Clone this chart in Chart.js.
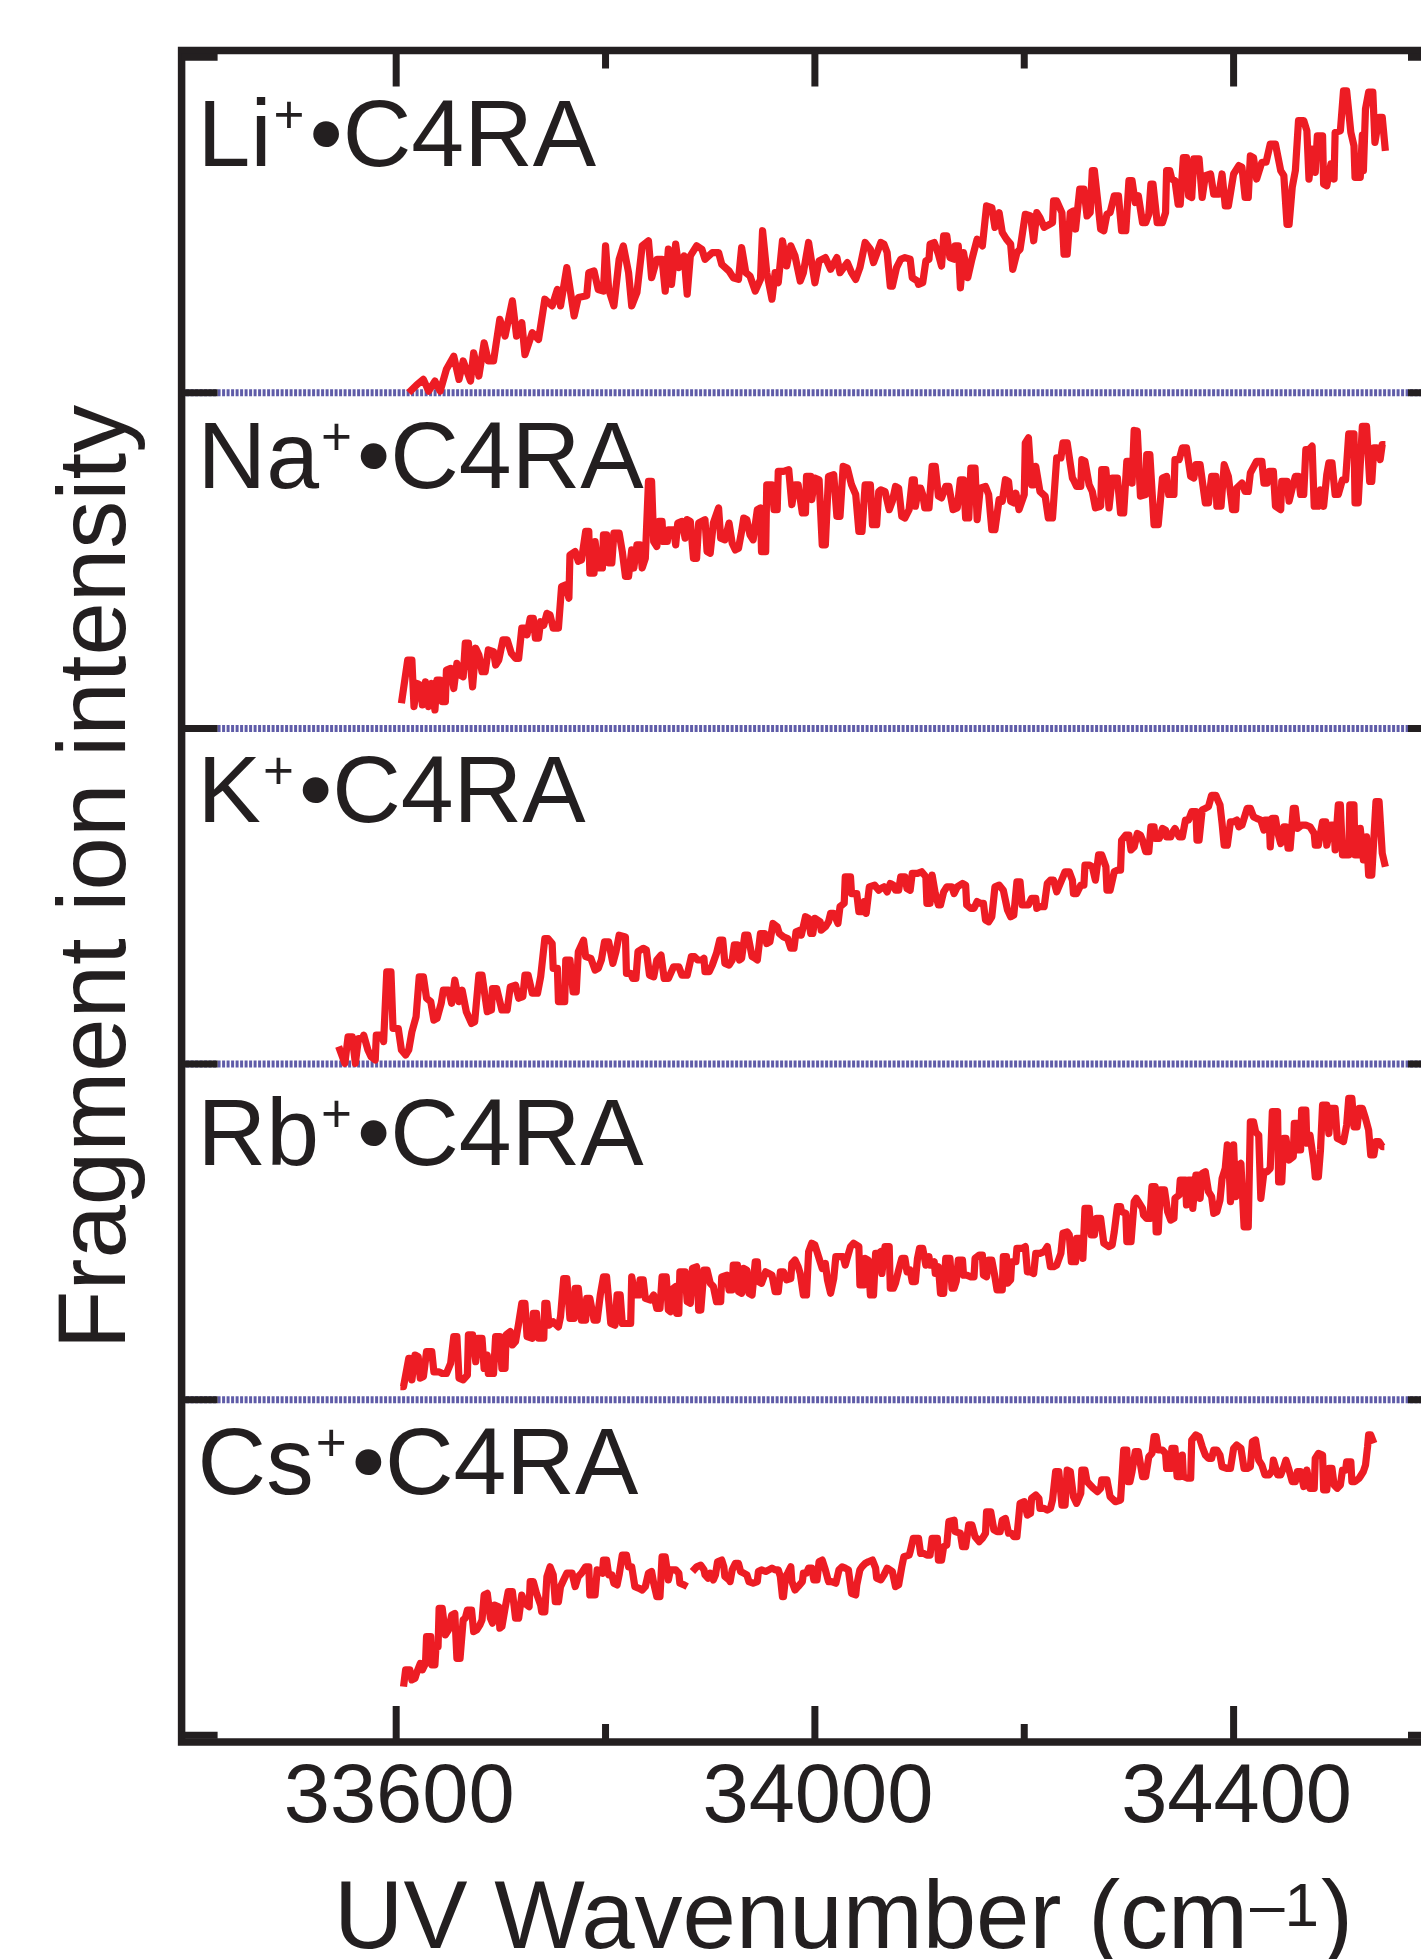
<!DOCTYPE html>
<html lang="en">
<head>
  <meta charset="UTF-8" />
  <title>Fragment ion intensity vs UV wavenumber</title>
  <script src="https://cdn.jsdelivr.net/npm/chart.js"></script>
  <style>
    html, body { margin: 0; padding: 0; background: #fff; overflow: hidden; }
    #chart { display: block; }
  </style>
</head>
<body>
  <canvas id="chart" width="1460" height="1959"></canvas>

  <script>
    // [wavenumber cm-1, intensity within its panel (0..1)]
    const li = [
      [33612,0],[33620,0.025],[33626,0.04],[33631,0.005],[33637,0.035],[33642,0.005],[33648,0.07],[33655,0.109],
      [33660,0.04],[33664,0.095],[33671,0.035],[33674,0.119],[33679,0.05],[33684,0.149],[33688,0.095],[33693,0.095],
      [33699,0.219],[33704,0.169],[33711,0.274],[33715,0.169],[33720,0.209],[33723,0.114],[33730,0.179],[33736,0.159],
      [33742,0.279],[33749,0.259],[33754,0.308],[33757,0.259],[33763,0.373],[33770,0.229],[33774,0.284],[33782,0.289],
      [33784,0.358],[33789,0.363],[33793,0.308],[33798,0.303],[33800,0.438],[33803,0.308],[33808,0.259],[33813,0.398],
      [33817,0.438],[33822,0.358],[33825,0.259],[33830,0.299],[33835,0.438],[33841,0.453],[33844,0.343],[33849,0.398],
      [33854,0.398],[33857,0.303],[33860,0.428],[33863,0.323],[33867,0.443],[33870,0.373],[33875,0.408],[33878,0.294],
      [33881,0.408],[33887,0.438],[33892,0.428],[33895,0.398],[33902,0.418],[33908,0.418],[33911,0.383],[33918,0.363],
      [33922,0.343],[33927,0.338],[33930,0.433],[33934,0.358],[33938,0.348],[33943,0.303],[33948,0.338],[33950,0.483],
      [33954,0.358],[33959,0.279],[33962,0.358],[33965,0.328],[33969,0.453],[33973,0.378],[33977,0.438],[33981,0.408],
      [33986,0.333],[33989,0.358],[33994,0.448],[34000,0.328],[34004,0.393],[34010,0.403],[34015,0.368],[34021,0.403],
      [34024,0.358],[34031,0.388],[34035,0.358],[34039,0.338],[34043,0.373],[34048,0.448],[34053,0.428],[34056,0.388],
      [34063,0.448],[34066,0.443],[34069,0.418],[34072,0.318],[34074,0.318],[34078,0.373],[34082,0.398],[34086,0.403],
      [34091,0.398],[34093,0.343],[34098,0.333],[34099,0.323],[34103,0.328],[34106,0.393],[34109,0.398],[34110,0.443],
      [34114,0.448],[34118,0.413],[34121,0.378],[34123,0.468],[34126,0.468],[34129,0.403],[34133,0.398],[34134,0.438],
      [34137,0.438],[34139,0.313],[34142,0.418],[34146,0.343],[34150,0.398],[34155,0.458],[34160,0.438],[34164,0.557],
      [34169,0.552],[34172,0.493],[34176,0.537],[34179,0.478],[34183,0.458],[34187,0.443],[34189,0.368],[34193,0.418],
      [34196,0.428],[34201,0.532],[34206,0.527],[34209,0.453],[34212,0.537],[34215,0.522],[34219,0.493],[34222,0.498],
      [34227,0.507],[34228,0.572],[34231,0.572],[34236,0.537],[34238,0.413],[34241,0.413],[34244,0.537],[34247,0.542],
      [34249,0.488],[34253,0.607],[34257,0.607],[34260,0.527],[34263,0.537],[34265,0.662],[34267,0.662],[34270,0.577],
      [34273,0.488],[34276,0.483],[34279,0.532],[34282,0.537],[34286,0.587],[34290,0.587],[34293,0.483],[34297,0.483],
      [34300,0.632],[34303,0.632],[34306,0.567],[34309,0.587],[34313,0.507],[34316,0.507],[34319,0.532],[34321,0.622],
      [34323,0.622],[34327,0.507],[34332,0.507],[34335,0.537],[34336,0.662],[34339,0.662],[34341,0.637],[34344,0.632],
      [34347,0.562],[34349,0.562],[34352,0.701],[34355,0.701],[34357,0.587],[34360,0.582],[34362,0.697],[34367,0.697],
      [34370,0.582],[34373,0.647],[34378,0.652],[34381,0.592],[34386,0.592],[34389,0.652],[34392,0.557],[34395,0.557],
      [34400,0.652],[34405,0.677],[34408,0.672],[34411,0.582],[34414,0.582],[34416,0.706],[34419,0.701],[34422,0.637],
      [34427,0.687],[34431,0.687],[34435,0.741],[34440,0.741],[34445,0.662],[34448,0.647],[34451,0.502],[34453,0.502],
      [34456,0.612],[34459,0.662],[34462,0.811],[34467,0.811],[34470,0.781],[34472,0.637],[34475,0.726],[34478,0.657],
      [34480,0.766],[34485,0.766],[34486,0.622],[34489,0.617],[34493,0.682],[34496,0.637],[34497,0.776],[34502,0.781],
      [34505,0.9],[34508,0.9],[34512,0.776],[34515,0.736],[34516,0.642],[34521,0.642],[34523,0.768],[34524,0.662],
      [34526,0.846],[34529,0.896],[34533,0.896],[34535,0.746],[34539,0.821],[34542,0.821],[34545,0.721]
    ];

    const na = [
      [33605,0.075],[33611,0.204],[33615,0.204],[33617,0.065],[33620,0.134],[33623,0.129],[33625,0.07],[33628,0.139],
      [33631,0.065],[33634,0.134],[33637,0.055],[33639,0.144],[33642,0.144],[33644,0.08],[33647,0.08],[33648,0.174],
      [33652,0.179],[33655,0.119],[33658,0.194],[33661,0.159],[33664,0.154],[33666,0.254],[33669,0.254],[33673,0.124],
      [33676,0.239],[33679,0.219],[33682,0.169],[33685,0.169],[33688,0.234],[33693,0.229],[33695,0.189],[33698,0.204],
      [33702,0.264],[33706,0.264],[33710,0.224],[33714,0.209],[33717,0.209],[33720,0.299],[33723,0.299],[33725,0.279],
      [33728,0.328],[33731,0.328],[33733,0.269],[33736,0.269],[33738,0.318],[33741,0.308],[33744,0.343],[33747,0.338],
      [33750,0.299],[33755,0.299],[33758,0.423],[33762,0.428],[33765,0.388],[33766,0.517],[33771,0.527],[33774,0.498],
      [33777,0.502],[33781,0.587],[33784,0.587],[33785,0.463],[33789,0.463],[33790,0.557],[33793,0.478],[33797,0.478],
      [33798,0.577],[33801,0.577],[33803,0.493],[33806,0.493],[33808,0.582],[33813,0.582],[33816,0.527],[33819,0.453],
      [33822,0.453],[33825,0.532],[33827,0.478],[33830,0.547],[33833,0.547],[33835,0.478],[33838,0.507],[33841,0.736],
      [33844,0.736],[33846,0.557],[33849,0.542],[33851,0.617],[33854,0.617],[33855,0.557],[33859,0.557],[33860,0.592],
      [33865,0.592],[33867,0.547],[33869,0.612],[33873,0.617],[33876,0.567],[33878,0.622],[33881,0.617],[33884,0.507],
      [33887,0.507],[33889,0.612],[33895,0.622],[33897,0.527],[33900,0.522],[33903,0.612],[33908,0.657],[33910,0.567],
      [33914,0.562],[33918,0.612],[33921,0.552],[33924,0.532],[33927,0.537],[33930,0.587],[33932,0.627],[33935,0.622],
      [33938,0.577],[33941,0.562],[33945,0.652],[33948,0.657],[33949,0.527],[33953,0.527],[33954,0.726],[33959,0.726],
      [33961,0.652],[33964,0.652],[33965,0.766],[33970,0.766],[33975,0.771],[33978,0.667],[33981,0.726],[33984,0.726],
      [33988,0.642],[33991,0.642],[33992,0.751],[33996,0.751],[33997,0.682],[34000,0.746],[34004,0.741],[34007,0.547],
      [34010,0.547],[34013,0.751],[34018,0.756],[34021,0.632],[34024,0.632],[34027,0.781],[34031,0.776],[34035,0.726],
      [34039,0.697],[34042,0.587],[34045,0.587],[34048,0.726],[34053,0.726],[34055,0.607],[34059,0.607],[34061,0.706],
      [34063,0.711],[34067,0.706],[34071,0.652],[34074,0.677],[34077,0.721],[34080,0.716],[34083,0.632],[34086,0.627],
      [34090,0.652],[34093,0.741],[34095,0.741],[34096,0.662],[34099,0.716],[34101,0.716],[34103,0.697],[34105,0.657],
      [34109,0.657],[34112,0.781],[34115,0.781],[34118,0.692],[34121,0.687],[34125,0.721],[34128,0.721],[34132,0.652],
      [34136,0.657],[34139,0.741],[34142,0.741],[34144,0.627],[34147,0.627],[34149,0.776],[34153,0.776],[34155,0.622],
      [34158,0.716],[34163,0.721],[34166,0.697],[34169,0.592],[34172,0.592],[34176,0.682],[34179,0.677],[34182,0.741],
      [34185,0.736],[34187,0.677],[34190,0.672],[34192,0.701],[34195,0.652],[34200,0.697],[34201,0.851],[34204,0.866],
      [34207,0.726],[34209,0.726],[34211,0.781],[34215,0.706],[34220,0.692],[34223,0.627],[34227,0.627],[34231,0.806],
      [34235,0.806],[34237,0.851],[34241,0.851],[34246,0.746],[34247,0.741],[34250,0.721],[34254,0.721],[34255,0.801],
      [34258,0.796],[34262,0.726],[34265,0.706],[34268,0.657],[34273,0.662],[34274,0.771],[34278,0.771],[34281,0.657],
      [34284,0.746],[34289,0.746],[34292,0.642],[34295,0.642],[34298,0.796],[34301,0.796],[34303,0.731],[34305,0.888],
      [34308,0.886],[34311,0.692],[34316,0.697],[34317,0.816],[34320,0.816],[34324,0.607],[34328,0.607],[34332,0.746],
      [34336,0.751],[34338,0.697],[34343,0.697],[34344,0.801],[34348,0.801],[34351,0.836],[34355,0.836],[34359,0.751],
      [34362,0.746],[34364,0.786],[34368,0.786],[34373,0.672],[34376,0.672],[34379,0.751],[34383,0.751],[34384,0.662],
      [34388,0.662],[34391,0.786],[34395,0.751],[34399,0.652],[34402,0.652],[34403,0.716],[34408,0.731],[34411,0.706],
      [34414,0.706],[34416,0.761],[34422,0.796],[34427,0.796],[34429,0.731],[34432,0.731],[34434,0.766],[34438,0.766],
      [34440,0.662],[34445,0.652],[34446,0.736],[34451,0.736],[34453,0.677],[34456,0.716],[34459,0.751],[34462,0.751],
      [34464,0.697],[34467,0.697],[34469,0.831],[34472,0.831],[34475,0.841],[34477,0.662],[34481,0.662],[34483,0.711],
      [34486,0.662],[34489,0.756],[34491,0.791],[34494,0.791],[34497,0.697],[34500,0.697],[34504,0.741],[34507,0.741],
      [34510,0.878],[34515,0.878],[34516,0.672],[34519,0.672],[34521,0.786],[34523,0.9],[34527,0.9],[34530,0.736],
      [34532,0.736],[34534,0.836],[34537,0.836],[34540,0.801],[34542,0.846],[34545,0.846]
    ];

    const k = [
      [33545,0.052],[33551,0.002],[33554,0.081],[33558,0.081],[33561,0.002],[33564,0.076],[33568,0.076],[33569,0.086],
      [33573,0.042],[33576,0.022],[33580,0.012],[33581,0.086],[33586,0.086],[33588,0.067],[33591,0.275],[33595,0.275],
      [33597,0.106],[33602,0.106],[33605,0.042],[33609,0.027],[33612,0.042],[33615,0.096],[33619,0.141],[33622,0.26],
      [33626,0.26],[33629,0.196],[33633,0.186],[33636,0.131],[33639,0.136],[33643,0.181],[33645,0.22],[33650,0.22],
      [33653,0.181],[33656,0.25],[33660,0.186],[33663,0.22],[33667,0.156],[33672,0.121],[33675,0.126],[33679,0.265],
      [33682,0.265],[33687,0.156],[33691,0.161],[33692,0.225],[33696,0.225],[33701,0.161],[33706,0.161],[33709,0.23],
      [33714,0.235],[33717,0.196],[33721,0.201],[33723,0.265],[33726,0.265],[33730,0.211],[33735,0.211],[33738,0.26],
      [33742,0.374],[33745,0.374],[33749,0.359],[33750,0.285],[33754,0.285],[33755,0.186],[33761,0.186],[33762,0.31],
      [33766,0.31],[33769,0.215],[33772,0.215],[33774,0.335],[33779,0.369],[33781,0.32],[33786,0.315],[33790,0.28],
      [33793,0.285],[33796,0.31],[33799,0.364],[33803,0.364],[33807,0.3],[33810,0.335],[33813,0.384],[33819,0.379],
      [33820,0.27],[33824,0.27],[33826,0.255],[33829,0.255],[33831,0.335],[33836,0.345],[33839,0.34],[33842,0.265],
      [33846,0.26],[33849,0.31],[33853,0.325],[33856,0.255],[33860,0.255],[33865,0.29],[33870,0.29],[33873,0.265],
      [33878,0.265],[33882,0.32],[33885,0.32],[33888,0.31],[33892,0.31],[33894,0.315],[33895,0.275],[33899,0.275],
      [33902,0.295],[33906,0.33],[33909,0.369],[33912,0.369],[33914,0.3],[33918,0.295],[33921,0.31],[33923,0.355],
      [33926,0.355],[33928,0.31],[33930,0.315],[33933,0.384],[33936,0.384],[33940,0.32],[33943,0.315],[33945,0.31],
      [33948,0.389],[33952,0.389],[33954,0.359],[33957,0.364],[33960,0.419],[33964,0.409],[33966,0.389],[33970,0.379],
      [33974,0.374],[33977,0.345],[33980,0.345],[33982,0.394],[33986,0.399],[33987,0.384],[33991,0.439],[33994,0.434],
      [33996,0.389],[33998,0.389],[34000,0.434],[34005,0.424],[34006,0.399],[34010,0.409],[34013,0.424],[34015,0.449],
      [34018,0.449],[34022,0.419],[34024,0.469],[34028,0.479],[34029,0.558],[34034,0.558],[34035,0.508],[34040,0.508],
      [34042,0.454],[34045,0.454],[34047,0.484],[34049,0.449],[34052,0.528],[34057,0.533],[34061,0.518],
      [34063,0.523],[34066,0.528],[34069,0.513],[34072,0.538],[34075,0.533],[34077,0.518],[34080,0.518],[34082,0.558],
      [34086,0.558],[34088,0.523],[34091,0.518],[34093,0.568],[34098,0.568],[34102,0.573],[34106,0.558],[34107,0.479],
      [34110,0.479],[34112,0.563],[34115,0.508],[34118,0.474],[34120,0.474],[34123,0.513],[34126,0.528],[34131,0.528],
      [34133,0.508],[34136,0.528],[34141,0.538],[34144,0.533],[34145,0.474],[34149,0.464],[34152,0.464],[34155,0.484],
      [34158,0.479],[34161,0.479],[34163,0.429],[34166,0.424],[34169,0.439],[34172,0.528],[34176,0.533],[34180,0.518],
      [34184,0.459],[34187,0.439],[34190,0.444],[34193,0.543],[34196,0.543],[34198,0.474],[34201,0.474],[34204,0.474],
      [34207,0.494],[34211,0.494],[34212,0.464],[34215,0.469],[34219,0.469],[34222,0.538],[34225,0.548],[34228,0.548],
      [34231,0.513],[34235,0.543],[34239,0.573],[34243,0.573],[34246,0.548],[34247,0.508],[34250,0.508],[34254,0.533],
      [34257,0.533],[34258,0.593],[34262,0.593],[34265,0.588],[34268,0.548],[34271,0.623],[34274,0.623],[34278,0.588],
      [34279,0.518],[34282,0.518],[34286,0.573],[34289,0.578],[34292,0.578],[34293,0.667],[34297,0.682],[34300,0.682],
      [34302,0.638],[34305,0.647],[34308,0.687],[34311,0.682],[34313,0.667],[34316,0.633],[34319,0.633],[34321,0.707],
      [34324,0.707],[34325,0.672],[34329,0.672],[34332,0.702],[34335,0.697],[34336,0.677],[34340,0.677],[34341,0.687],
      [34344,0.702],[34348,0.677],[34351,0.677],[34354,0.727],[34357,0.727],[34360,0.752],[34364,0.752],[34365,0.667],
      [34367,0.667],[34370,0.757],[34373,0.762],[34376,0.767],[34379,0.801],[34383,0.801],[34385,0.786],[34387,0.772],
      [34389,0.717],[34391,0.652],[34394,0.652],[34397,0.722],[34400,0.722],[34403,0.727],[34405,0.707],[34408,0.712],
      [34410,0.732],[34413,0.762],[34416,0.762],[34419,0.737],[34422,0.732],[34426,0.727],[34429,0.697],[34430,0.727],
      [34434,0.727],[34435,0.647],[34437,0.732],[34440,0.732],[34442,0.692],[34445,0.657],[34448,0.707],[34450,0.707],
      [34452,0.643],[34454,0.643],[34457,0.762],[34459,0.762],[34461,0.702],[34465,0.712],[34469,0.712],[34473,0.707],
      [34477,0.687],[34478,0.652],[34481,0.652],[34485,0.722],[34488,0.722],[34489,0.652],[34493,0.712],[34496,0.712],
      [34497,0.638],[34500,0.772],[34502,0.772],[34504,0.623],[34507,0.623],[34510,0.623],[34511,0.772],[34515,0.772],
      [34516,0.623],[34520,0.623],[34521,0.702],[34524,0.608],[34527,0.677],[34529,0.563],[34532,0.563],[34536,0.782],
      [34539,0.782],[34542,0.628],[34545,0.588]
    ];

    const rb = [
      [33604,0.039],[33607,0.039],[33612,0.123],[33613,0.123],[33615,0.059],[33618,0.133],[33621,0.128],[33623,0.064],
      [33626,0.069],[33629,0.143],[33634,0.143],[33636,0.083],[33641,0.083],[33644,0.078],[33648,0.078],[33652,0.108],
      [33655,0.188],[33658,0.188],[33660,0.064],[33664,0.059],[33668,0.073],[33669,0.193],[33673,0.193],[33676,0.113],
      [33678,0.183],[33682,0.183],[33684,0.093],[33687,0.133],[33688,0.078],[33693,0.078],[33695,0.188],[33699,0.188],
      [33701,0.093],[33704,0.093],[33705,0.193],[33709,0.203],[33711,0.163],[33714,0.173],[33717,0.227],[33720,0.287],
      [33723,0.287],[33725,0.188],[33730,0.183],[33731,0.257],[33734,0.257],[33736,0.183],[33741,0.183],[33742,0.287],
      [33744,0.287],[33746,0.222],[33750,0.232],[33755,0.217],[33757,0.247],[33760,0.361],[33763,0.361],[33766,0.242],
      [33770,0.242],[33771,0.332],[33774,0.332],[33777,0.237],[33781,0.237],[33782,0.302],[33785,0.302],[33789,0.237],
      [33792,0.237],[33795,0.312],[33798,0.366],[33801,0.366],[33805,0.227],[33809,0.222],[33811,0.312],[33814,0.312],
      [33816,0.227],[33824,0.227],[33825,0.366],[33828,0.312],[33832,0.312],[33833,0.357],[33836,0.357],[33838,0.302],
      [33843,0.297],[33846,0.312],[33849,0.272],[33852,0.272],[33854,0.366],[33858,0.366],[33860,0.267],[33862,0.262],
      [33863,0.327],[33867,0.337],[33868,0.257],[33870,0.257],[33871,0.381],[33876,0.381],[33878,0.292],[33881,0.287],
      [33883,0.391],[33887,0.396],[33889,0.267],[33891,0.267],[33894,0.386],[33897,0.386],[33900,0.347],[33903,0.337],
      [33906,0.292],[33910,0.292],[33911,0.366],[33916,0.371],[33918,0.327],[33921,0.327],[33922,0.401],[33926,0.401],
      [33927,0.322],[33930,0.317],[33932,0.391],[33935,0.386],[33937,0.317],[33940,0.312],[33943,0.411],[33945,0.411],
      [33946,0.352],[33949,0.347],[33953,0.381],[33956,0.376],[33959,0.371],[33962,0.322],[33965,0.322],[33967,0.381],
      [33970,0.381],[33973,0.357],[33977,0.361],[33978,0.406],[33981,0.416],[33984,0.396],[33986,0.376],[33989,0.312],
      [33992,0.312],[33994,0.441],[33997,0.466],[34000,0.461],[34004,0.421],[34007,0.391],[34010,0.406],[34012,0.357],
      [34015,0.317],[34018,0.361],[34020,0.426],[34024,0.426],[34027,0.426],[34029,0.401],[34034,0.456],[34037,0.466],
      [34042,0.456],[34043,0.342],[34047,0.342],[34048,0.421],[34051,0.416],[34053,0.312],[34056,0.312],[34058,0.436],
      [34061,0.436],[34063,0.441],[34064,0.376],[34067,0.456],[34071,0.456],[34072,0.332],[34075,0.332],[34077,0.347],
      [34080,0.386],[34083,0.421],[34086,0.421],[34088,0.381],[34091,0.386],[34093,0.352],[34096,0.352],[34098,0.421],
      [34100,0.451],[34103,0.451],[34106,0.401],[34109,0.426],[34110,0.401],[34114,0.411],[34115,0.376],[34118,0.396],
      [34120,0.317],[34123,0.317],[34125,0.421],[34129,0.421],[34131,0.332],[34133,0.332],[34135,0.352],[34137,0.416],
      [34141,0.416],[34142,0.371],[34145,0.371],[34149,0.366],[34152,0.366],[34153,0.421],[34157,0.431],[34160,0.431],
      [34161,0.371],[34164,0.366],[34166,0.416],[34169,0.416],[34172,0.366],[34174,0.327],[34179,0.327],[34180,0.426],
      [34183,0.426],[34184,0.347],[34187,0.357],[34188,0.411],[34192,0.411],[34193,0.451],[34198,0.451],[34201,0.456],
      [34203,0.381],[34206,0.381],[34209,0.376],[34211,0.436],[34215,0.436],[34219,0.441],[34222,0.456],[34225,0.396],
      [34228,0.396],[34231,0.401],[34235,0.436],[34237,0.496],[34241,0.5],[34243,0.491],[34245,0.411],[34249,0.411],
      [34250,0.481],[34254,0.481],[34256,0.421],[34258,0.57],[34262,0.57],[34264,0.491],[34267,0.491],[34269,0.54],
      [34273,0.54],[34276,0.466],[34281,0.456],[34284,0.461],[34286,0.5],[34289,0.575],[34292,0.575],[34293,0.56],
      [34297,0.555],[34298,0.471],[34302,0.471],[34305,0.59],[34307,0.6],[34309,0.59],[34313,0.57],[34314,0.55],
      [34317,0.54],[34320,0.54],[34322,0.635],[34325,0.635],[34326,0.5],[34328,0.5],[34330,0.625],[34334,0.625],
      [34337,0.56],[34340,0.535],[34343,0.54],[34344,0.6],[34348,0.61],[34349,0.654],[34354,0.654],[34355,0.58],
      [34357,0.654],[34360,0.654],[34361,0.57],[34364,0.669],[34366,0.669],[34368,0.6],[34370,0.674],[34373,0.679],
      [34376,0.62],[34379,0.605],[34381,0.555],[34384,0.56],[34387,0.595],[34389,0.659],[34392,0.689],[34394,0.759],
      [34395,0.754],[34397,0.59],[34399,0.654],[34400,0.759],[34402,0.605],[34403,0.689],[34407,0.704],[34410,0.515],
      [34414,0.515],[34416,0.828],[34419,0.828],[34421,0.798],[34424,0.788],[34426,0.6],[34429,0.679],[34432,0.679],
      [34435,0.689],[34437,0.858],[34442,0.858],[34443,0.649],[34446,0.649],[34448,0.779],[34450,0.779],[34453,0.714],
      [34457,0.724],[34458,0.823],[34461,0.823],[34462,0.744],[34464,0.744],[34465,0.863],[34469,0.863],[34470,0.764],
      [34473,0.788],[34477,0.699],[34478,0.664],[34481,0.664],[34483,0.744],[34485,0.878],[34489,0.878],[34491,0.793],
      [34493,0.868],[34497,0.868],[34499,0.779],[34502,0.774],[34505,0.769],[34508,0.818],[34510,0.898],[34513,0.898],
      [34515,0.813],[34518,0.813],[34520,0.868],[34523,0.868],[34526,0.838],[34529,0.803],[34531,0.729],[34534,0.729],
      [34536,0.769],[34539,0.769],[34542,0.754],[34544,0.754]
    ];

    // the Cs+ trace has a short break near 33880 cm-1 (null)
    const cs = [
      [33607,0.145],[33609,0.195],[33613,0.195],[33615,0.165],[33618,0.17],[33620,0.19],[33623,0.214],[33625,0.195],
      [33628,0.214],[33629,0.294],[33633,0.294],[33634,0.21],[33637,0.21],[33638,0.264],[33640,0.264],[33641,0.378],
      [33644,0.378],[33647,0.299],[33650,0.314],[33653,0.358],[33656,0.363],[33658,0.229],[33661,0.229],[33664,0.344],
      [33666,0.349],[33668,0.373],[33672,0.373],[33674,0.309],[33677,0.314],[33680,0.329],[33682,0.344],[33684,0.418],
      [33687,0.423],[33690,0.349],[33692,0.334],[33694,0.388],[33698,0.383],[33699,0.319],[33701,0.324],[33704,0.378],
      [33707,0.428],[33711,0.428],[33714,0.349],[33717,0.349],[33720,0.418],[33723,0.393],[33727,0.383],[33728,0.458],
      [33731,0.458],[33734,0.423],[33738,0.388],[33739,0.368],[33742,0.368],[33744,0.473],[33747,0.502],[33750,0.478],
      [33752,0.398],[33755,0.398],[33757,0.443],[33760,0.463],[33763,0.483],[33768,0.483],[33771,0.443],[33774,0.473],
      [33777,0.483],[33781,0.502],[33784,0.502],[33785,0.418],[33790,0.418],[33792,0.493],[33797,0.483],[33798,0.522],
      [33801,0.522],[33803,0.478],[33806,0.478],[33808,0.453],[33811,0.448],[33813,0.478],[33816,0.537],[33820,0.537],
      [33822,0.502],[33825,0.502],[33828,0.443],[33832,0.438],[33835,0.433],[33838,0.443],[33841,0.483],[33844,0.488],
      [33846,0.453],[33849,0.413],[33852,0.413],[33854,0.532],[33857,0.532],[33859,0.488],[33860,0.463],[33862,0.493],
      [33867,0.493],[33870,0.483],[33871,0.453],[33875,0.448],[33878,0.443],[33880,null],
      [33883,0.488],[33887,0.502],[33891,0.507],[33894,0.493],[33895,0.478],[33898,0.468],[33900,0.483],[33903,0.463],
      [33905,0.478],[33907,0.517],[33911,0.522],[33913,0.502],[33914,0.473],[33918,0.463],[33919,0.458],[33921,0.493],
      [33924,0.512],[33927,0.512],[33929,0.488],[33932,0.483],[33935,0.478],[33937,0.458],[33941,0.453],[33945,0.458],
      [33946,0.488],[33949,0.493],[33953,0.488],[33956,0.493],[33959,0.498],[33962,0.493],[33965,0.493],[33967,0.473],
      [33969,0.413],[33970,0.413],[33972,0.473],[33974,0.483],[33977,0.502],[33978,0.458],[33981,0.433],[33984,0.443],
      [33988,0.458],[33989,0.483],[33992,0.483],[33994,0.498],[33997,0.498],[33999,0.463],[34002,0.463],[34004,0.517],
      [34007,0.522],[34010,0.493],[34013,0.458],[34016,0.458],[34020,0.453],[34023,0.493],[34026,0.502],[34029,0.498],
      [34032,0.493],[34035,0.423],[34039,0.418],[34040,0.448],[34043,0.493],[34045,0.502],[34048,0.512],[34051,0.517],
      [34055,0.522],[34058,0.498],[34059,0.468],
      [34063,0.463],[34066,0.478],[34069,0.498],[34074,0.488],[34077,0.443],[34080,0.448],[34083,0.502],[34085,0.532],
      [34090,0.537],[34091,0.547],[34094,0.587],[34099,0.587],[34101,0.542],[34104,0.542],[34107,0.537],[34110,0.537],
      [34112,0.587],[34117,0.587],[34118,0.522],[34121,0.522],[34123,0.562],[34126,0.567],[34128,0.637],[34133,0.641],
      [34134,0.607],[34139,0.602],[34141,0.562],[34144,0.562],[34147,0.627],[34150,0.627],[34153,0.592],[34157,0.577],
      [34160,0.587],[34163,0.602],[34164,0.666],[34168,0.666],[34171,0.612],[34174,0.607],[34177,0.607],[34179,0.641],
      [34182,0.646],[34185,0.602],[34188,0.602],[34190,0.592],[34193,0.592],[34196,0.691],[34200,0.696],[34203,0.656],
      [34206,0.661],[34207,0.706],[34211,0.716],[34214,0.706],[34215,0.676],[34219,0.676],[34222,0.671],[34225,0.676],
      [34227,0.701],[34230,0.786],[34233,0.786],[34236,0.686],[34239,0.686],[34241,0.79],[34244,0.786],[34247,0.711],
      [34250,0.691],[34254,0.721],[34255,0.79],[34258,0.79],[34260,0.756],[34263,0.746],[34266,0.736],[34270,0.726],
      [34273,0.736],[34274,0.761],[34279,0.761],[34282,0.711],[34287,0.696],[34292,0.701],[34295,0.85],[34298,0.85],
      [34299,0.756],[34301,0.756],[34303,0.786],[34306,0.845],[34309,0.845],[34313,0.771],[34316,0.771],[34319,0.83],
      [34322,0.84],[34324,0.89],[34326,0.89],[34328,0.85],[34332,0.85],[34335,0.84],[34336,0.795],[34340,0.795],
      [34341,0.855],[34344,0.855],[34346,0.771],[34349,0.771],[34351,0.835],[34352,0.771],[34356,0.766],[34359,0.766],
      [34360,0.88],[34364,0.895],[34367,0.89],[34370,0.86],[34373,0.835],[34376,0.825],[34379,0.825],[34381,0.85],
      [34384,0.85],[34387,0.835],[34389,0.8],[34394,0.795],[34397,0.795],[34400,0.855],[34403,0.865],[34407,0.855],
      [34410,0.795],[34413,0.795],[34416,0.8],[34418,0.875],[34421,0.88],[34424,0.82],[34427,0.805],[34430,0.776],
      [34434,0.776],[34437,0.79],[34438,0.82],[34442,0.776],[34445,0.776],[34448,0.8],[34450,0.82],[34453,0.79],
      [34456,0.756],[34459,0.756],[34461,0.786],[34464,0.786],[34467,0.741],[34470,0.79],[34473,0.736],[34477,0.736],
      [34478,0.825],[34481,0.84],[34485,0.835],[34486,0.731],[34489,0.731],[34491,0.795],[34494,0.795],[34496,0.746],
      [34499,0.736],[34502,0.746],[34504,0.79],[34507,0.79],[34508,0.815],[34512,0.815],[34513,0.756],[34516,0.756],
      [34520,0.766],[34521,0.771],[34524,0.786],[34526,0.805],[34528,0.86],[34529,0.895],[34531,0.895],[34534,0.87]
    ];

    // panels from top to bottom, each stacked one unit above the next
    const ions = ['Li', 'Na', 'K', 'Rb', 'Cs'];
    const traces = [li, na, k, rb, cs];
    const panelEdges = [0, 1, 2, 3, 4, 5];
    const xMajor = [33600, 34000, 34400];
    const xMinor = [33800, 34200];

    const INK = '#231f20';
    const RED = '#ed1c24';
    const DOTS = '#5f5ca8';
    const FONT = '"Liberation Sans", Arial, Helvetica, sans-serif';
    // baseline of each ion label below the top of its panel (px)
    const labelDrop = [116, 95, 94, 101, 94];

    const datasets = traces.map((t, i) => {
      const offset = ions.length - 1 - i;
      return {
        label: ions[i],
        data: t.map(p => ({ x: p[0], y: p[1] === null ? null : p[1] + offset })),
        borderColor: RED,
        borderWidth: 7.2,
        borderJoinStyle: 'round',
        pointRadius: 0,
        fill: false,
        tension: 0,
        spanGaps: false
      };
    });

    function ionLabel(ctx, x, y, ion) {
      ctx.font = '95px ' + FONT;
      ctx.fillText(ion, x, y);
      x += ctx.measureText(ion).width + 2;
      ctx.font = '53px ' + FONT;
      ctx.fillText('+', x, y - 33);
      x += ctx.measureText('+').width + 5;
      ctx.font = '95px ' + FONT;
      ctx.fillText('\u2022C4RA', x, y);
    }

    const frame = {
      id: 'frame',
      beforeDatasetsDraw(chart) {
        const { ctx, chartArea: a, scales: { y } } = chart;
        ctx.save();
        ctx.strokeStyle = DOTS;
        ctx.lineWidth = 7;
        ctx.setLineDash([3, 1.5]);
        panelEdges.slice(1, -1).forEach(v => {
          const py = y.getPixelForValue(v);
          ctx.beginPath();
          ctx.moveTo(a.left, py);
          ctx.lineTo(a.right, py);
          ctx.stroke();
        });
        ctx.restore();
      },
      afterDatasetsDraw(chart) {
        const { ctx, chartArea: a, scales: { x, y } } = chart;
        ctx.save();
        ctx.strokeStyle = INK;
        ctx.lineWidth = 7.5;
        ctx.lineCap = 'butt';
        ctx.lineJoin = 'miter';
        ctx.strokeRect(a.left, a.top, a.right - a.left, a.bottom - a.top);

        ctx.beginPath();
        panelEdges.forEach(v => {
          const py = y.getPixelForValue(v);
          ctx.moveTo(a.left, py); ctx.lineTo(a.left + 36, py);
          ctx.moveTo(a.right, py); ctx.lineTo(a.right - 36, py);
        });
        xMajor.forEach(v => {
          const px = x.getPixelForValue(v);
          ctx.moveTo(px, a.top); ctx.lineTo(px, a.top + 36);
          ctx.moveTo(px, a.bottom); ctx.lineTo(px, a.bottom - 36);
        });
        xMinor.forEach(v => {
          const px = x.getPixelForValue(v);
          ctx.moveTo(px, a.top); ctx.lineTo(px, a.top + 18);
          ctx.moveTo(px, a.bottom); ctx.lineTo(px, a.bottom - 18);
        });
        ctx.lineWidth = 7;
        ctx.stroke();

        ctx.fillStyle = INK;
        ctx.textBaseline = 'alphabetic';

        // tick labels
        ctx.textAlign = 'center';
        ctx.font = '83px ' + FONT;
        xMajor.forEach(v => ctx.fillText(String(v), x.getPixelForValue(v) + 3, a.bottom + 80));

        // panel labels
        ctx.textAlign = 'left';
        ions.forEach((ion, i) => {
          const top = y.getPixelForValue(ions.length - i);
          ionLabel(ctx, a.left + 16, Math.max(top, a.top) + labelDrop[i] + (i === 0 ? -6.8 : 0), ion);
        });

        // x axis title with superscript
        let tx = a.left + 152.5;
        const ty = a.bottom + 206;
        ctx.font = '96px ' + FONT;
        ctx.fillText('UV Wavenumber (cm', tx, ty);
        tx += ctx.measureText('UV Wavenumber (cm').width + 2;
        ctx.font = '62px ' + FONT;
        ctx.fillText('\u20131', tx, ty - 22);
        tx += ctx.measureText('\u20131').width + 2;
        ctx.font = '96px ' + FONT;
        ctx.fillText(')', tx, ty);

        // y axis title
        ctx.translate(a.left - 56.6, 877);
        ctx.rotate(-Math.PI / 2);
        ctx.textAlign = 'center';
        ctx.font = '96px ' + FONT;
        ctx.fillText('Fragment ion intensity', 0, 0);
        ctx.restore();
      }
    };

    new Chart(document.getElementById('chart'), {
      type: 'line',
      data: { datasets: datasets },
      options: {
        responsive: false,
        devicePixelRatio: 1,
        animation: false,
        layout: { padding: { left: 181.6, right: 16, top: 50.5, bottom: 217 } },
        plugins: { legend: { display: false }, tooltip: { enabled: false } },
        scales: {
          x: { type: 'linear', min: 33395, max: 34601, display: false },
          y: { type: 'linear', min: -0.02, max: 5.02, display: false }
        }
      },
      plugins: [frame]
    });
  </script>
</body>
</html>
